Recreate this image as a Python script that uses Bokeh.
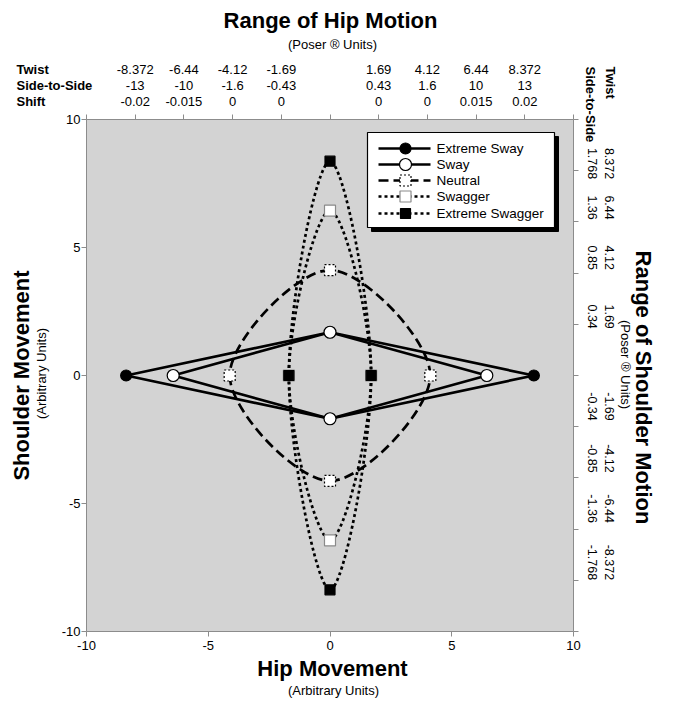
import math
from bokeh.plotting import figure
from bokeh.models import Label, LinearAxis, FixedTicker, Range1d, CustomJSTickFormatter
from bokeh.embed import file_html
from bokeh.resources import INLINE
from bokeh.core.properties import value

# ---------------- data ----------------
series = ["Extreme Sway", "Sway", "Neutral", "Swagger", "Extreme Swagger"]
hip_twist = [8.372, 6.44, 4.12, 1.69, 1.69]          # x extent of each series
shoulder_twist = [1.69, 1.69, 4.12, 6.44, 8.372]     # y extent of each series

x_ticks = [-10, -5, 0, 5, 10]
x_tick_labels = ["-10", "-5", "0", "5", "10"]
y_ticks = [-10, -5, 0, 5, 10]
y_tick_labels = ["-10", "-5", "0", "5", "10"]
minor_ticks = [-10, -8, -6, -4, -2, 0, 2, 4, 6, 8, 10]

top_ticks = [-8, -6, -4, -2, 2, 4, 6, 8]
top_twist = ["-8.372", "-6.44", "-4.12", "-1.69", "1.69", "4.12", "6.44", "8.372"]
top_side = ["-13", "-10", "-1.6", "-0.43", "0.43", "1.6", "10", "13"]
top_shift = ["-0.02", "-0.015", "0", "0", "0", "0", "0.015", "0.02"]
row_names = ["Twist", "Side-to-Side", "Shift"]

right_twist = ["8.372", "6.44", "4.12", "1.69", "-1.69", "-4.12", "-6.44", "-8.372"]
right_side = ["1.768", "1.36", "0.85", "0.34", "-0.34", "-0.85", "-1.36", "-1.768"]
right_label_y = [8.28, 6.56, 4.6, 2.3, -1.21, -3.24, -5.2, -7.3]

# ---------------- styles ----------------
smooth = [False, False, True, True, True]
dashes = ["solid", "solid", "10 5", "3 3", "3 3"]
markers = ["circle", "circle", "square", "square", "square"]
fills = ["black", "white", "white", "white", "black"]
mline = ["black", "black", "black", "#8a8a8a", "black"]
mdash = ["solid", "solid", "2 2", "solid", "solid"]
msize = [11, 12, 11, 11, 10]
FONT = "Liberation Sans"
AX = "#8c8c8c"

W, H = 675, 701
FX0, FX1, FY0, FY1 = 86, 573, 119, 631          # plot-area box in canvas pixels
KX = (FX1 - FX0) / 20.0
KY = (FY1 - FY0) / 20.0

def dx(px):
    return -10 + (px - FX0) / KX

def dy(py):
    return 10 - (py - FY0) / KY

p = figure(width=W, height=H, title=None,
           x_range=Range1d(dx(0), dx(W)), y_range=Range1d(dy(H), dy(0)),
           output_backend="svg", toolbar_location=None, min_border=0)
p.background_fill_color = "white"
p.border_fill_color = "white"
p.outline_line_color = None
p.grid.visible = False

# plot area
p.quad(left=[-10], right=[10], bottom=[-10], top=[10], fill_color="#d3d3d3", line_color=None)

def style_axis(ax, ticks, labels=None):
    ax.ticker = FixedTicker(ticks=ticks)
    ax.bounds = (-10, 10)
    ax.axis_line_color = AX
    ax.major_tick_line_color = AX
    ax.major_tick_out = 5
    ax.major_tick_in = 0
    ax.minor_tick_line_color = None
    ax.major_label_text_font = FONT
    ax.major_label_text_font_size = "13px"
    ax.major_label_text_color = "black"
    if labels is None:
        ax.formatter = CustomJSTickFormatter(code="return ''")
    else:
        ax.major_label_overrides = {t: s for t, s in zip(ticks, labels)}

xa = p.xaxis[0]
ya = p.yaxis[0]
style_axis(xa, x_ticks, x_tick_labels)
style_axis(ya, y_ticks, y_tick_labels)
xa.fixed_location = -10
ya.fixed_location = -10
xa.major_label_standoff = 4
ya.major_label_standoff = 1

top_ax = LinearAxis()
style_axis(top_ax, minor_ticks)
top_ax.fixed_location = 10
p.add_layout(top_ax, "above")
right_ax = LinearAxis()
style_axis(right_ax, minor_ticks)
right_ax.fixed_location = 10
p.add_layout(right_ax, "right")

# ---------------- series lines ----------------
def pts(h, s):
    return [(h, 0), (0, s), (-h, 0), (0, -s)]

for i, name in enumerate(series):
    P = pts(hip_twist[i], shoulder_twist[i])
    if not smooth[i]:
        xs = [q[0] for q in P] + [P[0][0]]
        ys = [q[1] for q in P] + [P[0][1]]
        p.line(xs, ys, line_color="black", line_width=2.7, line_dash=dashes[i])
    else:
        n = len(P)
        x0, y0, x1, y1, cx0, cy0, cx1, cy1 = ([] for _ in range(8))
        for k in range(n):
            a, b = P[k], P[(k + 1) % n]
            pr, nx = P[(k - 1) % n], P[(k + 2) % n]
            x0.append(a[0]); y0.append(a[1]); x1.append(b[0]); y1.append(b[1])
            cx0.append(a[0] + (b[0] - pr[0]) / 6.0); cy0.append(a[1] + (b[1] - pr[1]) / 6.0)
            cx1.append(b[0] - (nx[0] - a[0]) / 6.0); cy1.append(b[1] - (nx[1] - a[1]) / 6.0)
        p.bezier(x0=x0, y0=y0, x1=x1, y1=y1, cx0=cx0, cy0=cy0, cx1=cx1, cy1=cy1,
                 line_color="black", line_width=2.7, line_dash=dashes[i])

for i, name in enumerate(series):
    P = pts(hip_twist[i], shoulder_twist[i])
    p.scatter([q[0] for q in P], [q[1] for q in P], marker=markers[i], size=msize[i],
              fill_color=fills[i], line_color=mline[i], line_width=1.2, line_dash=mdash[i])

# ---------------- legend (drawn) ----------------
sh = 4
p.quad(left=[dx(367 + sh)], right=[dx(554 + sh)], top=[dy(132 + sh)], bottom=[dy(227 + sh)],
       fill_color="black", line_color="black")
p.quad(left=[dx(367)], right=[dx(554)], top=[dy(132)], bottom=[dy(227)], fill_color="white",
       line_color="black", line_width=1.2)
row_py = [148, 164, 180, 196, 213]
for i, name in enumerate(series):
    yy = dy(row_py[i])
    p.line([dx(378), dx(430)], [yy, yy], line_color="black", line_width=2.7, line_dash=dashes[i])
    p.scatter([dx(405)], [yy], marker=markers[i], size=msize[i], fill_color=fills[i],
              line_color=mline[i], line_width=1.2, line_dash=mdash[i])
p.text(x=[dx(436)] * len(series), y=[dy(v) for v in row_py], text=series,
       text_font=value(FONT), text_font_size="13.5px", text_baseline="middle",
       text_align="left", text_color="black")

# ---------------- text labels ----------------
def lab(x, y, text, size, bold=False, angle=0.0, align="center", baseline="middle"):
    p.add_layout(Label(x=x, y=y, text=text, text_font=FONT, text_font_size=f"{size}px",
                       text_font_style="bold" if bold else "normal", angle=angle,
                       text_align=align, text_baseline=baseline, text_color="black"))

lab(dx(330), dy(20), "Range of Hip Motion", 22, bold=True)
lab(dx(332), dy(44), "(Poser \u00ae Units)", 13)
lab(dx(332), dy(668), "Hip Movement", 22, bold=True)
lab(dx(333), dy(690), "(Arbitrary Units)", 13)
lab(dx(21), dy(375), "Shoulder Movement", 22, bold=True, angle=math.pi / 2)
lab(dx(41), dy(373), "(Arbitrary Units)", 13, angle=math.pi / 2)
lab(dx(643), dy(387), "Range of Shoulder Motion", 22, bold=True, angle=-math.pi / 2)
lab(dx(625), dy(364), "(Poser \u00ae Units)", 13, angle=-math.pi / 2)

rows_py = [69, 85, 101]
for r, name in enumerate(row_names):
    lab(dx(16), dy(rows_py[r]), name, 13, bold=True, align="left")
for r, labels in enumerate([top_twist, top_side, top_shift]):
    for t, s in zip(top_ticks, labels):
        lab(t, dy(rows_py[r]), s, 13)

lab(dx(610), dy(66), "Twist", 13, bold=True, angle=-math.pi / 2, align="left")
lab(dx(590), dy(66), "Side-to-Side", 13, bold=True, angle=-math.pi / 2, align="left")
for yv, tw, sd in zip(right_label_y, right_twist, right_side):
    lab(dx(609), yv, tw, 12.5, angle=-math.pi / 2)
    lab(dx(592), yv, sd, 12.5, angle=-math.pi / 2)

open("out.html", "w").write(file_html(p, INLINE))
